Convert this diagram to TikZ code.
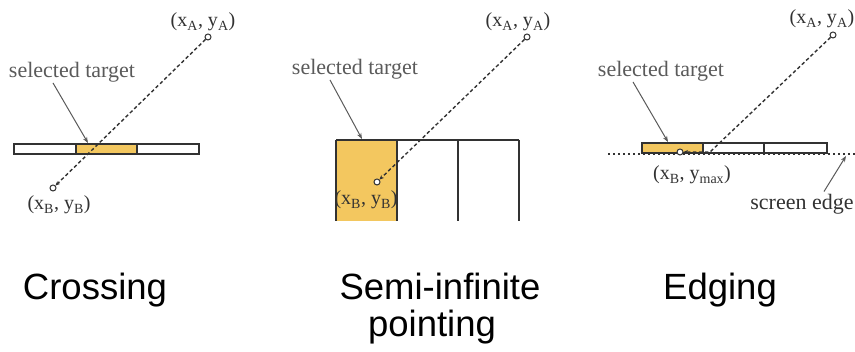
\documentclass[tikz,border=0pt]{standalone}
\usepackage{fontspec}
\setmainfont{Liberation Sans}
\newfontfamily\seriffont{Liberation Serif}
\usetikzlibrary{arrows.meta}
\definecolor{targetyellow}{RGB}{243,199,95}
\definecolor{framegray}{RGB}{50,50,50}
\definecolor{notegray}{RGB}{90,90,90}
\begin{document}
\begin{tikzpicture}[x=1pt,y=-1pt,
  frame/.style={draw=framegray,line width=1.6pt},
  trace/.style={draw=framegray,line width=1.4pt,dash pattern=on 3.5pt off 2.5pt,-{Stealth[length=4.5pt,width=4pt]}},
  pointer/.style={draw=notegray,line width=1pt,-{Stealth[length=6pt,width=4.5pt]}},
  dot/.style={circle,draw=framegray,fill=white,line width=1pt,inner sep=0pt,minimum size=6pt},
  coordlbl/.style={anchor=base,text=framegray,font=\seriffont\fontsize{20}{24}\selectfont,inner sep=0pt},
  notelbl/.style={anchor=base,text=notegray,font=\seriffont\fontsize{22}{26}\selectfont,inner sep=0pt},
  title/.style={anchor=base,font=\fontsize{36.5}{37}\selectfont,inner sep=0pt}]
  \useasboundingbox (0,0) rectangle (855,352);
  % crossing
  \fill[targetyellow] (76,144) rectangle (137,154);
  \draw[frame] (14,144) rectangle (199,154);
  \foreach \x in {76,137} \draw[frame] (\x,144) -- (\x,154);
  \node[dot] (A1) at (208,37) {};
  \node[dot] (B1) at (53,188) {};
  \draw[trace] (A1) -- (B1);
  \node[coordlbl] (lA1) at (203,27) {(x\textsubscript{A}, y\textsubscript{A})};
  \node[coordlbl] (lB1) at (59,210) {(x\textsubscript{B}, y\textsubscript{B})};
  \node[notelbl] (sel1) at (72,78) {selected target};
  \coordinate (tip1) at (88,143);
  \draw[pointer] ([xshift=-19pt]sel1.south) -- (tip1);
  \node[title] (cross) at (95,300) {Crossing};
  % semi-infinite pointing
  \fill[targetyellow] (336,140) rectangle (397,221);
  \draw[frame] (336,140) -- (519,140);
  \foreach \x in {336,397,458,519} \draw[frame] (\x,140) -- (\x,221);
  \node[dot] (A2) at (527,37) {};
  \node[dot] (B2) at (377,182) {};
  \draw[trace] (A2) -- (B2);
  \node[coordlbl] (lA2) at (518,27) {(x\textsubscript{A}, y\textsubscript{A})};
  \node[coordlbl] (lB2) at (366,205) {(x\textsubscript{B}, y\textsubscript{B})};
  \node[notelbl] (sel2) at (355,75) {selected target};
  \coordinate (tip2) at (362,139);
  \draw[pointer] ([xshift=-25pt]sel2.south) -- (tip2);
  \node[title] (semi) at (440,300) {Semi-infinite};
  \node[title] (point) at (432,337) {pointing};
  % edging
  \fill[targetyellow] (642,143) rectangle (703,153);
  \draw[frame] (642,143) rectangle (827,153);
  \foreach \x in {703,764} \draw[frame] (\x,143) -- (\x,153);
  \draw[framegray,line width=1.5pt,dash pattern=on 2pt off 3pt] (608,154) -- (855,154);
  \node[dot] (A3) at (833,35) {};
  \node[dot] (B3) at (680,152) {};
  \coordinate (hit3) at (710,152);
  \draw[trace] (A3) -- (hit3) -- (B3);
  \node[coordlbl] (lA3) at (822,24) {(x\textsubscript{A}, y\textsubscript{A})};
  \node[coordlbl] (lB3) at (692,180) {(x\textsubscript{B}, y\textsubscript{max})};
  \node[notelbl] (sel3) at (661,77) {selected target};
  \coordinate (tip3) at (668,142);
  \draw[pointer] ([xshift=-28pt]sel3.south) -- (tip3);
  \node[notelbl,text=framegray] (scr) at (802,210) {screen edge};
  \coordinate (edge3) at (846,156);
  \draw[pointer] ([xshift=22pt,yshift=3pt]scr.north) -- (edge3);
  \node[title] (edg) at (720,300) {Edging};
\end{tikzpicture}
\end{document}
